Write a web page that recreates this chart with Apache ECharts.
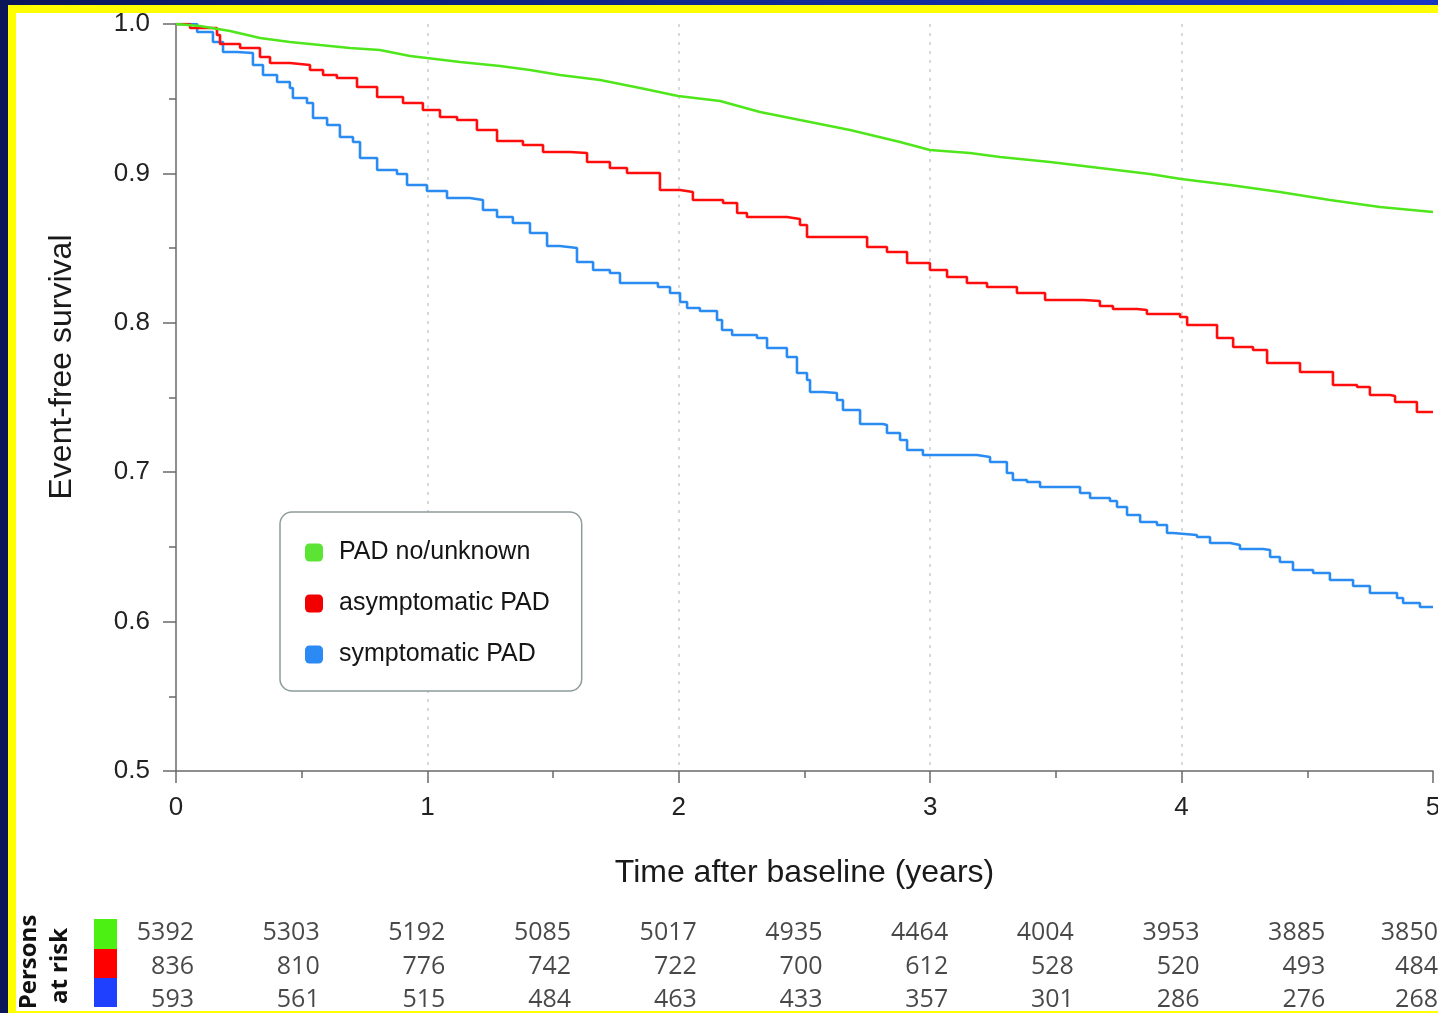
<!DOCTYPE html>
<html>
<head>
<meta charset="utf-8">
<script src="https://cdn.jsdelivr.net/npm/echarts@6/dist/echarts.min.js"></script>
<style>
  html, body { margin: 0; padding: 0; width: 1438px; height: 1013px; overflow: hidden; }
  body { background: linear-gradient(90deg, #0a1658 0%, #10288f 50%, #1836c2 100%); position: relative; }
  #yellow { position: absolute; left: 8px; top: 5px; right: 0; bottom: 0; background: #ffff00; }
  #white { position: absolute; left: 16px; top: 13px; right: 0; bottom: 2px; background: #ffffff; }
  #chart { position: absolute; left: 0; top: 0; width: 1438px; height: 1013px; }
</style>
</head>
<body>
<div id="yellow"></div>
<div id="white"></div>
<div id="chart"></div>
<script>
// ---- Data (years, event-free survival) ----
const seriesNames = ['PAD no/unknown', 'asymptomatic PAD', 'symptomatic PAD'];
const lineColors = ['#4fe61c', '#ff0d0d', '#2a8cf2'];
const legendColors = ['#5be434', '#f20000', '#2b8af3'];
const riskColors = ['#4cf012', '#ff0000', '#2040ff'];

const greenCurve = [
  [0,1.000],[0.095,0.9987],[0.215,0.9953],[0.334,0.9906],[0.453,0.9880],[0.573,0.9859],
  [0.692,0.9839],[0.811,0.9826],[0.931,0.9786],[0.998,0.9772],[1.130,0.9746],[1.289,0.9719],
  [1.408,0.9692],[1.527,0.9659],[1.687,0.9625],[1.846,0.9572],[1.997,0.9518],[2.164,0.9485],
  [2.323,0.9411],[2.482,0.9357],[2.681,0.9290],[2.880,0.9210],[2.999,0.9157],[3.158,0.9137],
  [3.278,0.9110],[3.477,0.9076],[3.675,0.9036],[3.874,0.8996],[3.998,0.8963],[4.193,0.8922],
  [4.391,0.8876],[4.590,0.8822],[4.789,0.8775],[5.000,0.8742]
];
const redCurve = [
  [0,1.000],[0.056,0.9973],[0.163,0.9926],[0.175,0.9866],[0.255,0.9839],[0.334,0.9779],
  [0.374,0.9739],[0.453,0.9726],[0.533,0.9692],[0.585,0.9659],[0.640,0.9639],[0.720,0.9578],
  [0.800,0.9511],[0.903,0.9471],[0.982,0.9424],[1.050,0.9378],[1.118,0.9357],[1.197,0.9290],
  [1.277,0.9217],[1.380,0.9190],[1.460,0.9143],[1.567,0.9137],[1.635,0.9076],[1.726,0.9036],
  [1.794,0.9003],[1.925,0.8889],[2.005,0.8876],[2.056,0.8822],[2.176,0.8802],[2.232,0.8735],
  [2.271,0.8708],[2.430,0.8695],[2.482,0.8655],[2.510,0.8574],[2.673,0.8574],[2.749,0.8507],
  [2.828,0.8474],[2.908,0.8400],[2.999,0.8353],[3.067,0.8307],[3.146,0.8266],[3.226,0.8240],
  [3.345,0.8199],[3.457,0.8153],[3.608,0.8146],[3.675,0.8112],[3.727,0.8092],[3.823,0.8086],
  [3.862,0.8059],[3.994,0.8039],[4.022,0.7985],[4.141,0.7898],[4.205,0.7838],[4.284,0.7818],
  [4.340,0.7731],[4.471,0.7671],[4.602,0.7584],[4.698,0.7570],[4.749,0.7517],[4.829,0.7510],
  [4.849,0.7470],[4.936,0.7403],[5.000,0.7403]
];
const blueCurve = [
  [0,1.000],[0.084,0.9946],[0.147,0.9880],[0.187,0.9813],[0.243,0.9806],[0.306,0.9726],
  [0.346,0.9659],[0.402,0.9612],[0.453,0.9572],[0.465,0.9505],[0.521,0.9471],[0.545,0.9371],
  [0.601,0.9324],[0.652,0.9244],[0.704,0.9210],[0.732,0.9103],[0.800,0.9023],[0.879,0.8996],
  [0.919,0.8922],[0.998,0.8882],[1.078,0.8835],[1.169,0.8822],[1.221,0.8755],[1.277,0.8708],
  [1.340,0.8668],[1.408,0.8601],[1.476,0.8514],[1.527,0.8501],[1.595,0.8407],[1.659,0.8353],
  [1.726,0.8333],[1.766,0.8266],[1.874,0.8266],[1.917,0.8240],[1.965,0.8199],[2.005,0.8139],
  [2.033,0.8099],[2.084,0.8079],[2.152,0.8019],[2.172,0.7952],[2.212,0.7918],[2.311,0.7898],
  [2.351,0.7831],[2.430,0.7771],[2.470,0.7664],[2.510,0.7617],[2.522,0.7537],[2.574,0.7530],
  [2.629,0.7483],[2.653,0.7416],[2.721,0.7323],[2.812,0.7316],[2.828,0.7262],[2.880,0.7216],
  [2.908,0.7149],[2.971,0.7115],[3.186,0.7102],[3.238,0.7068],[3.305,0.6995],[3.329,0.6948],
  [3.385,0.6934],[3.437,0.6901],[3.568,0.6901],[3.596,0.6861],[3.636,0.6827],[3.715,0.6807],
  [3.743,0.6767],[3.783,0.6714],[3.835,0.6667],[3.902,0.6647],[3.942,0.6593],[3.966,0.6580],
  [4.061,0.6566],[4.113,0.6526],[4.193,0.6513],[4.232,0.6486],[4.324,0.6479],[4.352,0.6432],
  [4.391,0.6399],[4.443,0.6345],[4.523,0.6325],[4.590,0.6278],[4.682,0.6238],[4.749,0.6191],
  [4.857,0.6158],[4.881,0.6124],[4.948,0.6098],[5.000,0.6098]
];

// Persons at risk
const atRiskTimes = [0, 0.5, 1, 1.5, 2, 2.5, 3, 3.5, 4, 4.5, 5];
const atRiskGreen = [5392, 5303, 5192, 5085, 5017, 4935, 4464, 4004, 3953, 3885, 3850];
const atRiskRed   = [836, 810, 776, 742, 722, 700, 612, 528, 520, 493, 484];
const atRiskBlue  = [593, 561, 515, 484, 463, 433, 357, 301, 286, 276, 268];
const riskRows = ['g', 'r', 'b'];

const yTicks = [0.5, 0.6, 0.7, 0.8, 0.9, 1.0];

const chart = echarts.init(document.getElementById('chart'), null, { renderer: 'canvas' });

const curves = [greenCurve, redCurve, blueCurve];
const lineSeries = curves.map((c, i) => ({
  name: seriesNames[i],
  type: 'line',
  step: i === 0 ? false : 'end',
  data: c,
  xAxisIndex: 0, yAxisIndex: 0,
  showSymbol: false,
  symbol: 'roundRect',
  color: legendColors[i],
  lineStyle: { color: lineColors[i], width: 2.6 },
  silent: true,
  z: 3 - i + 2
}));

function riskSeries(arr, row) {
  return {
    type: 'scatter',
    xAxisIndex: 1, yAxisIndex: 1,
    symbolSize: 0,
    silent: true,
    data: arr.map((v, i) => ({
      value: [atRiskTimes[i], row, v],
      label: { offset: [i === arr.length - 1 ? 5 : 18, 0] }
    })),
    label: {
      show: true,
      position: 'inside',
      align: 'right',
      verticalAlign: 'middle',
      formatter: p => String(p.value[2]),
      fontFamily: 'Open Sans',
      fontSize: 25,
      color: '#1a1a1a'
    }
  };
}

const fontMain = '"Liberation Sans", Arial, sans-serif';

chart.setOption({
  backgroundColor: 'transparent',
  animation: false,
  grid: [
    { left: 176, right: 5, top: 24, bottom: 242, containLabel: false, outerBoundsMode: 'none' },
    { left: 176, right: 5, top: 916, height: 101, containLabel: false, outerBoundsMode: 'none' }
  ],
  xAxis: [
    {
      type: 'value', gridIndex: 0, min: 0, max: 5, interval: 1,
      name: 'Time after baseline (years)',
      nameLocation: 'middle', nameGap: 86,
      nameTextStyle: { fontFamily: fontMain, fontSize: 32, color: '#1a1a1a' },
      axisLine: { show: true, lineStyle: { color: '#6a6a6a', width: 1.5 } },
      axisTick: { show: true, length: 12, lineStyle: { color: '#6a6a6a', width: 1.5 } },
      minorTick: { show: true, splitNumber: 2, length: 7, lineStyle: { color: '#6a6a6a', width: 1.5 } },
      axisLabel: { margin: 24, fontFamily: fontMain, fontSize: 26, color: '#222' },
      splitLine: { show: true, showMinLine: false, showMaxLine: false, lineStyle: { color: '#c8cdd0', type: [3, 6], width: 1.5 } }
    },
    {
      type: 'value', gridIndex: 1, min: 0, max: 5, show: false
    }
  ],
  yAxis: [
    {
      type: 'value', gridIndex: 0, min: 0.5, max: 1.0, interval: 0.1,
      axisLine: { show: true, lineStyle: { color: '#6a6a6a', width: 1.5 } },
      axisTick: { show: true, length: 13, lineStyle: { color: '#6a6a6a', width: 1.5 } },
      minorTick: { show: true, splitNumber: 2, length: 7, lineStyle: { color: '#6a6a6a', width: 1.5 } },
      axisLabel: {
        margin: 26, fontFamily: fontMain, fontSize: 26, color: '#222',
        formatter: v => yTicks.some(t => Math.abs(t - v) < 1e-9) ? v.toFixed(1) : ''
      },
      splitLine: { show: false }
    },
    {
      type: 'category', gridIndex: 1, data: riskRows, inverse: true, show: false
    }
  ],
  legend: {
    data: seriesNames,
    orient: 'vertical',
    left: 280, top: 512,
    padding: [28, 32, 24, 25],
    itemWidth: 18, itemHeight: 18,
    itemGap: 26,
    icon: 'roundRect',
    borderColor: '#8e9c9c', borderWidth: 1.5, borderRadius: 12,
    backgroundColor: '#ffffff',
    selectedMode: false,
    textStyle: { fontFamily: fontMain, fontSize: 25, color: '#151515', lineHeight: 25, padding: [0, 0, 0, 11] }
  },
  graphic: [
    {
      type: 'text', x: 62, y: 367, rotation: Math.PI / 2,
      style: { text: 'Event-free survival', fontFamily: fontMain, fontSize: 32, fill: '#1a1a1a', align: 'center', verticalAlign: 'middle' }
    },
    {
      type: 'text', x: 29, y: 962, rotation: Math.PI / 2,
      style: { text: 'Persons', fontFamily: 'Open Sans', fontWeight: 'bold', fontSize: 24, fill: '#111', align: 'center', verticalAlign: 'middle' }
    },
    {
      type: 'text', x: 60, y: 966, rotation: Math.PI / 2,
      style: { text: 'at risk', fontFamily: 'Open Sans', fontWeight: 'bold', fontSize: 24, fill: '#111', align: 'center', verticalAlign: 'middle' }
    },
    { type: 'rect', shape: { x: 94, y: 919, width: 23, height: 30 }, style: { fill: riskColors[0] } },
    { type: 'rect', shape: { x: 94, y: 949, width: 23, height: 29 }, style: { fill: riskColors[1] } },
    { type: 'rect', shape: { x: 94, y: 978, width: 23, height: 29 }, style: { fill: riskColors[2] } }
  ],
  series: [
    ...lineSeries,
    riskSeries(atRiskGreen, 'g'),
    riskSeries(atRiskRed, 'r'),
    riskSeries(atRiskBlue, 'b')
  ]
});
</script>
</body>
</html>
